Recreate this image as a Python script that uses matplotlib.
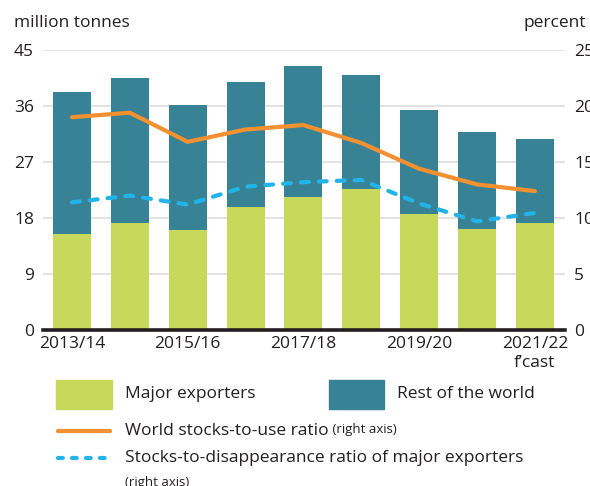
import matplotlib
matplotlib.use("Agg")
import matplotlib.pyplot as plt
from matplotlib.patches import Rectangle
from matplotlib.lines import Line2D

# ---------------- data ----------------
seasons = ["2013/14", "2014/15", "2015/16", "2016/17", "2017/18",
           "2018/19", "2019/20", "2020/21", "2021/22\nf\u2019cast"]
major_exporters = [15.4, 17.2, 16.0, 19.7, 21.3, 22.6, 18.6, 16.3, 17.2]
stocks_total = [38.2, 40.5, 36.2, 39.9, 42.5, 41.0, 35.4, 31.8, 30.7]
rest_of_world = [t - m for t, m in zip(stocks_total, major_exporters)]
world_stu = [19.0, 19.4, 16.8, 17.9, 18.3, 16.7, 14.4, 13.0, 12.4]
major_sdr = [11.4, 12.0, 11.2, 12.8, 13.2, 13.4, 11.3, 9.7, 10.45]

# ---------------- style ----------------
GREEN = "#c6d95b"
TEAL = "#388296"
ORANGE = "#f39130"
BLUE = "#22b4e8"
TEXT = "#231f20"
GRID = "#e3e3e3"
FS = 12.5

plt.rcParams["font.family"] = ["Open Sans", "DejaVu Sans"]
plt.rcParams["text.color"] = TEXT

W, H = 590, 486
fig = plt.figure(figsize=(W / 100, H / 100), dpi=100)


def fx(px):
    return px / W


def fy(py):
    return 1 - py / H


ax = fig.add_axes([fx(43), fy(330), fx(565) - fx(43), fy(50) - fy(330)])
ax2 = ax.twinx()

x = list(range(len(seasons)))
bw = 0.655
ax.bar(x, major_exporters, width=bw, color=GREEN, zorder=2)
ax.bar(x, rest_of_world, width=bw, bottom=major_exporters, color=TEAL, zorder=2)

ax.set_xlim(-0.5, 8.52)
ax.set_ylim(0, 45)
ax.set_yticks([0, 9, 18, 27, 36, 45])
ax.set_axisbelow(True)
ax.yaxis.grid(True, color=GRID, linewidth=1.4)
ax.axhline(0, color=TEXT, linewidth=2.6, zorder=5, clip_on=False)

ax.set_xticks([0, 2, 4, 6, 8])
ax.set_xticklabels([seasons[i] for i in [0, 2, 4, 6, 8]], linespacing=1.25)

ax2.plot(x, world_stu, color=ORANGE, linewidth=3, solid_joinstyle="round",
         solid_capstyle="round", zorder=4)
ax2.plot(x, major_sdr, color=BLUE, linewidth=3, dashes=(1.9, 2.4),
         dash_capstyle="round", dash_joinstyle="round", zorder=4)
ax2.set_ylim(0, 25)
ax2.set_yticks([0, 5, 10, 15, 20, 25])

for a in (ax, ax2):
    for s in a.spines.values():
        s.set_visible(False)
    a.tick_params(length=0, labelsize=FS, colors=TEXT)
ax.tick_params(axis="y", pad=6.5)
ax.tick_params(axis="x", pad=4.5)
ax2.tick_params(axis="y", pad=6.5)

fig.text(fx(14), fy(23), "million tonnes", fontsize=FS, va="center", ha="left")
fig.text(fx(586), fy(23), "percent", fontsize=FS, va="center", ha="right")

# ---------------- legend (drawn by hand, mixed font sizes) ----------------
fig.patches.append(Rectangle((fx(56), fy(409)), fx(56), 29 / H,
                             transform=fig.transFigure, color=GREEN))
fig.text(fx(125), fy(394), "Major exporters", fontsize=FS, va="center")
fig.patches.append(Rectangle((fx(329), fy(409)), fx(55), 29 / H,
                             transform=fig.transFigure, color=TEAL))
fig.text(fx(397), fy(394), "Rest of the world", fontsize=FS, va="center")

fig.lines.append(Line2D([fx(58), fx(110)], [fy(431), fy(431)], color=ORANGE,
                        linewidth=3, solid_capstyle="round",
                        transform=fig.transFigure))
t1 = fig.text(fx(125), fy(431), "World stocks-to-use ratio", fontsize=FS,
              va="center")
ax.annotate(" (right axis)", xy=(1, 0), xycoords=t1, fontsize=9.5,
            va="bottom", ha="left", xytext=(0, 2), textcoords="offset points",
            annotation_clip=False)

fig.lines.append(Line2D([fx(58), fx(110)], [fy(458), fy(458)], color=BLUE,
                        linewidth=3, dashes=(1.15, 2.2), dash_capstyle="round",
                        transform=fig.transFigure))
fig.text(fx(125), fy(458), "Stocks-to-disappearance ratio of major exporters",
         fontsize=FS, va="center")
fig.text(fx(125), fy(482), "(right axis)", fontsize=9.5, va="center")

fig.savefig("out.png", dpi=100)
